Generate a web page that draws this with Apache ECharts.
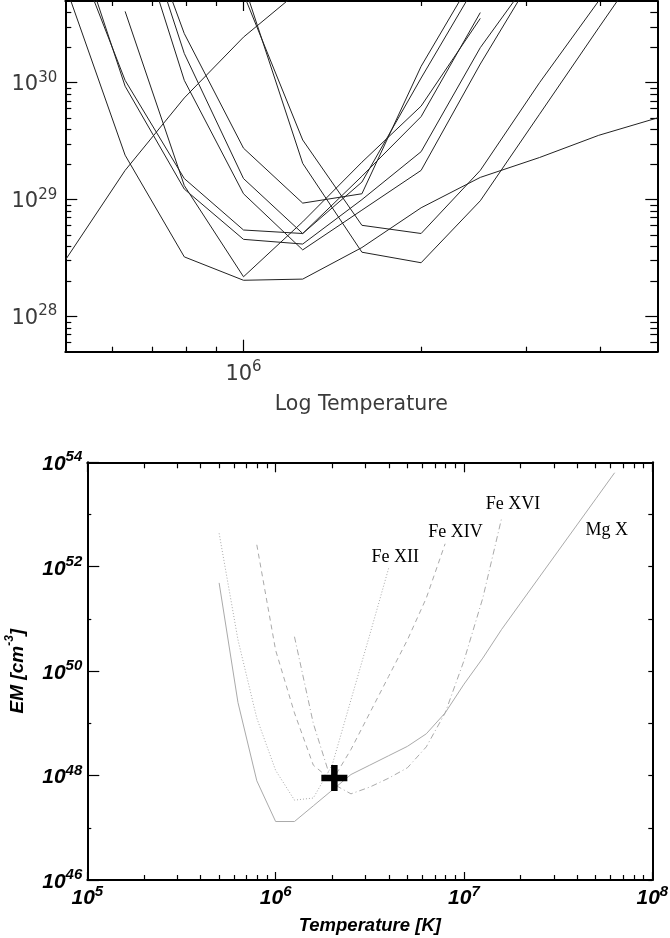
<!DOCTYPE html>
<html><head><meta charset="utf-8">
<script src="https://cdn.jsdelivr.net/npm/echarts@6/dist/echarts.min.js"></script>
<style>html,body{margin:0;padding:0;background:#fff}#c{width:670px;height:938px}</style>
</head><body><div id="c"></div>
<script>
// ---------- TOP PANEL DATA (log10 T nodes, log10 EM values) ----------
const topLogT = [5.7, 5.8, 5.9, 6.0, 6.1, 6.2, 6.3, 6.4, 6.5, 6.6, 6.7];
const topA = [28.49, 29.25, 29.87, 30.39, 30.81];
const topB = [30.82, 29.38, 28.51, 28.31, 28.32, 28.59, 28.93, 29.19, 29.36, 29.55, 29.70];
const topC = [null, 30.61, 29.12, 28.34, 28.81, 29.32, 29.80, 30.55];
const topD = [31.32, 30.02, 29.18, 28.74, 28.71, 29.15, 30.04, 30.90];
const topE = [31.50, 29.97, 29.09, 28.66, 28.62, 29.00, 29.41, 30.30, 31.00];
const topG = [null, 31.80, 30.42, 29.44, 28.97, 29.05, 30.14, 31.00];
const topH = [null, 31.80, 30.25, 29.18, 28.71, 29.20, 29.71, 30.60];
const topI = [null, 31.62, 30.02, 29.05, 28.57, 28.91, 29.25, 30.16, 31.00];
const topJ = [null, null, 31.60, 30.76, 29.51, 28.78, 28.71, 29.25, 30.00, 30.70];
const topK = [null, null, 31.70, 30.85, 29.31, 28.55, 28.46, 28.99, 29.73, 30.47, 31.20];
const topCurves = [topA, topB, topC, topD, topE, topG, topH, topI, topJ, topK];

const topXMajor = [1e6];
const topXMinor = [6e5, 7e5, 8e5, 9e5, 2e6, 3e6, 4e6];
const topYMajor = [1e28, 1e29, 1e30];
const topYMinor = [6e27, 7e27, 8e27, 9e27, 2e28, 3e28, 4e28, 5e28, 6e28, 7e28, 8e28, 9e28,
                   2e29, 3e29, 4e29, 5e29, 6e29, 7e29, 8e29, 9e29, 2e30, 3e30, 4e30];

// ---------- BOTTOM PANEL DATA ----------
const mgXLogT = [5.7, 5.8, 5.9, 6.0, 6.1, 6.2, 6.3, 6.4, 6.5, 6.6, 6.7, 6.8, 6.9, 7.0, 7.1, 7.2, 7.3, 7.4, 7.5, 7.6, 7.7, 7.8];
const mgXLogEM = [51.69, 49.40, 47.90, 47.12, 47.12, 47.42, 47.72, 48.02, 48.20, 48.38, 48.56, 48.80, 49.20, 49.75, 50.25, 50.80, 51.30, 51.80, 52.30, 52.80, 53.30, 53.80];
const fe12LogT = [5.7, 5.8, 5.9, 6.0, 6.1, 6.2, 6.3, 6.4, 6.5, 6.6];
const fe12LogEM = [52.64, 50.60, 49.10, 48.10, 47.53, 47.57, 48.20, 49.45, 50.70, 51.97];
const fe14LogT = [5.9, 6.0, 6.1, 6.2, 6.3, 6.4, 6.5, 6.6, 6.7, 6.8, 6.9];
const fe14LogEM = [52.42, 50.40, 49.20, 48.20, 47.90, 48.50, 49.20, 49.90, 50.60, 51.40, 52.44];
const fe16LogT = [6.1, 6.2, 6.3, 6.4, 6.5, 6.6, 6.7, 6.8, 6.9, 7.0, 7.1, 7.2];
const fe16LogEM = [50.66, 49.00, 47.85, 47.65, 47.78, 47.95, 48.15, 48.55, 49.20, 50.20, 51.40, 52.93];
const crossPoint = [2.05e6, 9e47];
const ionLabels = [
  {name: 'Fe XII', t: 4.31e6, em: 1.55e52},
  {name: 'Fe XIV', t: 9.02e6, em: 4.54e52},
  {name: 'Fe XVI', t: 1.82e7, em: 1.60e53},
  {name: 'Mg X',   t: 5.73e7, em: 5.07e52}
];
const botXMajor = [1e5, 1e6, 1e7, 1e8];
const botXMinor = [2e5,3e5,4e5,5e5,6e5,7e5,8e5,9e5, 2e6,3e6,4e6,5e6,6e6,7e6,8e6,9e6, 2e7,3e7,4e7,5e7,6e7,7e7,8e7,9e7];
const botYMajor = [1e46, 1e48, 1e50, 1e52, 9.9999e53];
const botYMinor = [1e47, 1e49, 1e51, 1e53];
const botYAll = [1e46, 1e47, 1e48, 1e49, 1e50, 1e51, 1e52, 1e53];

// ---------- helpers ----------
function pairs(logT, logEM) {
  const out = [];
  for (let i = 0; i < logEM.length; i++) {
    if (logEM[i] == null) continue;
    out.push([Math.pow(10, logT[i]), Math.pow(10, logEM[i])]);
  }
  return out;
}
const expFmt = v => '{b|10}{s|' + Math.round(Math.log10(v)) + '}';
const topFont = 'DejaVu Sans';
const botFont = 'Liberation Sans';
const topColor = '#3a3a3a';
const topRich = {
  b: {fontFamily: topFont, fontSize: 21, color: topColor, lineHeight: 25, verticalAlign: 'bottom'},
  s: {fontFamily: topFont, fontSize: 15, color: topColor, lineHeight: 15, verticalAlign: 'top'}
};
const botRich = {
  b: {fontFamily: botFont, fontSize: 21, fontWeight: 'bold', fontStyle: 'italic', color: '#000', lineHeight: 25, verticalAlign: 'bottom'},
  s: {fontFamily: botFont, fontSize: 15, fontWeight: 'bold', fontStyle: 'italic', color: '#000', lineHeight: 15, verticalAlign: 'top'}
};

function ax(o) {
  const base = {type: 'log', logBase: 10, splitLine: {show: false},
    axisLine: {show: false}, axisTick: {show: false}, axisLabel: {show: false}};
  return Object.assign(base, o);
}
function line(w) { return {show: true, onZero: false, lineStyle: {color: '#000', width: w}}; }
function ticks(vals, len, w) { return {show: true, inside: true, length: len, customValues: vals, lineStyle: {color: '#000', width: w || 1}}; }

const TX = {min: 5e5, max: 5e6}, TY = {min: 5e27, max: 5e30};
const BX = {min: 1e5, max: 1e8}, BY = {min: 1e46, max: 1e54};

const xAxes = [
  ax(Object.assign({gridIndex: 0, position: 'bottom', axisLine: line(2), axisTick: ticks(topXMajor, 12, 1.2),
    axisLabel: {show: true, customValues: topXMajor, formatter: expFmt, rich: topRich, margin: 8},
    name: 'Log Temperature', nameLocation: 'middle', nameGap: 42,
    nameTextStyle: {fontFamily: topFont, fontSize: 20.5, color: topColor}}, TX)),
  ax(Object.assign({gridIndex: 0, position: 'bottom', axisTick: ticks(topXMinor, 5, 1.2)}, TX)),
  ax(Object.assign({gridIndex: 0, position: 'top', axisLine: line(2), axisTick: ticks(topXMajor, 10, 1.2)}, TX)),
  ax(Object.assign({gridIndex: 0, position: 'top', axisTick: ticks(topXMinor, 5, 1.2)}, TX)),
  ax(Object.assign({gridIndex: 1, position: 'bottom', axisLine: line(2), axisTick: ticks(botXMajor, 8, 1.2),
    axisLabel: {show: true, customValues: botXMajor, formatter: expFmt, rich: botRich, margin: 4},
    name: 'Temperature [K]', nameLocation: 'middle', nameGap: 36,
    nameTextStyle: {fontFamily: botFont, fontSize: 18.5, fontWeight: 'bold', fontStyle: 'italic', color: '#000'}}, BX)),
  ax(Object.assign({gridIndex: 1, position: 'bottom', axisTick: ticks(botXMinor, 5, 1.2)}, BX)),
  ax(Object.assign({gridIndex: 1, position: 'top', axisLine: line(2), axisTick: ticks(botXMajor, 10, 1.2)}, BX)),
  ax(Object.assign({gridIndex: 1, position: 'top', axisTick: ticks(botXMinor, 6, 1.2)}, BX))
];
const yAxes = [
  ax(Object.assign({gridIndex: 0, position: 'left', axisLine: line(2), axisTick: ticks(topYMajor, 12, 1.2),
    axisLabel: {show: true, customValues: topYMajor, formatter: expFmt, rich: topRich, margin: 8}}, TY)),
  ax(Object.assign({gridIndex: 0, position: 'left', axisTick: ticks(topYMinor, 6, 1.2)}, TY)),
  ax(Object.assign({gridIndex: 0, position: 'right', axisLine: line(2), axisTick: ticks(topYMajor, 12, 1.2)}, TY)),
  ax(Object.assign({gridIndex: 0, position: 'right', axisTick: ticks(topYMinor, 7, 1.2)}, TY)),
  ax(Object.assign({gridIndex: 1, position: 'left', axisLine: line(2), axisTick: ticks(botYMajor, 12, 1.2),
    axisLabel: {show: true, customValues: botYMajor, formatter: expFmt, rich: botRich, margin: 5},
    name: '{a|EM [cm}{s|-3}{a|]}', nameLocation: 'middle', nameGap: 60,
    nameTextStyle: {rich: {
      a: {fontFamily: botFont, fontSize: 19, fontWeight: 'bold', fontStyle: 'italic', color: '#000', lineHeight: 24, verticalAlign: 'bottom'},
      s: {fontFamily: botFont, fontSize: 12, fontWeight: 'bold', fontStyle: 'italic', color: '#000', lineHeight: 13, verticalAlign: 'top'}
    }}}, BY)),
  ax(Object.assign({gridIndex: 1, position: 'left', axisTick: ticks(botYMinor, 4, 1.2)}, BY)),
  ax(Object.assign({gridIndex: 1, position: 'right', axisLine: line(2), axisTick: ticks(botYAll, 4, 1.2)}, BY))
];

const series = [];
topCurves.forEach(c => series.push({
  type: 'line', xAxisIndex: 0, yAxisIndex: 0, symbol: 'none', clip: true, silent: true,
  lineStyle: {color: '#222', width: 1}, data: pairs(topLogT, c)
}));
const gray = '#aaaaaa';
series.push({type: 'line', name: 'Mg X', xAxisIndex: 4, yAxisIndex: 4, symbol: 'none', clip: true,
  lineStyle: {color: gray, width: 1, type: 'solid'}, data: pairs(mgXLogT, mgXLogEM)});
series.push({type: 'line', name: 'Fe XII', xAxisIndex: 4, yAxisIndex: 4, symbol: 'none', clip: true,
  lineStyle: {color: gray, width: 1, type: [1, 2]}, data: pairs(fe12LogT, fe12LogEM)});
series.push({type: 'line', name: 'Fe XIV', xAxisIndex: 4, yAxisIndex: 4, symbol: 'none', clip: true,
  lineStyle: {color: gray, width: 1, type: [5, 4]}, data: pairs(fe14LogT, fe14LogEM)});
series.push({type: 'line', name: 'Fe XVI', xAxisIndex: 4, yAxisIndex: 4, symbol: 'none', clip: true,
  lineStyle: {color: gray, width: 1, type: [6, 3, 1, 3]}, data: pairs(fe16LogT, fe16LogEM)});
series.push({type: 'scatter', xAxisIndex: 4, yAxisIndex: 4, symbolSize: 26,
  symbol: 'path://M37.5 0H62.5V37.5H100V62.5H62.5V100H37.5V62.5H0V37.5H37.5Z',
  itemStyle: {color: '#000', opacity: 1}, data: [crossPoint], z: 5});
series.push({type: 'scatter', xAxisIndex: 4, yAxisIndex: 4, symbolSize: 1,
  itemStyle: {color: 'rgba(0,0,0,0)', opacity: 1},
  label: {show: true, position: 'inside', formatter: p => p.data.name,
    fontFamily: 'Liberation Serif', fontSize: 18, color: '#000', opacity: 1},
  data: ionLabels.map(l => ({name: l.name, value: [l.t, l.em]}))});

const chart = echarts.init(document.getElementById('c'), null, {renderer: 'canvas'});
chart.setOption({
  animation: false,
  backgroundColor: '#fff',
  grid: [
    {left: 65.3, right: 12.7, top: 1, height: 350.7, containLabel: false, outerBoundsMode: 'none'},
    {left: 87.3, right: 17.7, top: 462.3, height: 417.7, containLabel: false, outerBoundsMode: 'none'}
  ],
  xAxis: xAxes, yAxis: yAxes, series: series
});
</script></body></html>
